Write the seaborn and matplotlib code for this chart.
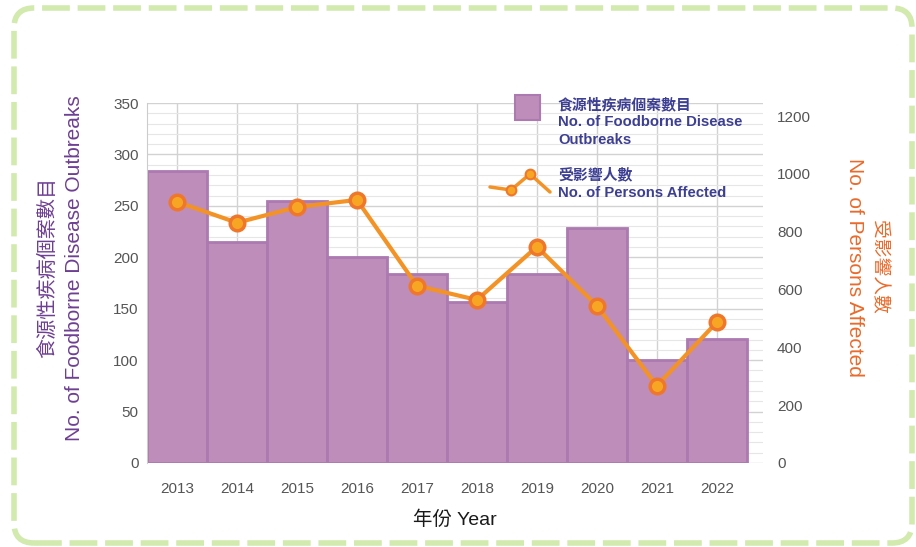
import numpy as np
import pandas as pd
import matplotlib
matplotlib.use("Agg")
import matplotlib.pyplot as plt
import seaborn as sns
from matplotlib.patches import FancyBboxPatch, Rectangle
from matplotlib.lines import Line2D

# data
years = ['2013', '2014', '2015', '2016', '2017', '2018', '2019', '2020', '2021', '2022']
outbreaks = [284, 215, 255, 200, 184, 157, 184, 228, 100, 121]
persons = [903, 831, 885, 910, 613, 564, 748, 544, 267, 487]

BAR = '#BF8DBA'
BAR_EDGE = '#AC79B0'
LINE = '#F39325'
MK_FACE = '#F6A623'
MK_EDGE = '#EF772B'
TICK = '#555555'

sns.set_style('white')
plt.rcParams['font.family'] = ['Liberation Sans', 'Noto Sans CJK TC']

df = pd.DataFrame({'year': years, 'outbreaks': outbreaks, 'persons': persons})
pos = np.arange(len(years))

W, H = 916, 547
fig = plt.figure(figsize=(W / 100, H / 100), dpi=100)
ax = fig.add_axes([147 / W, 1 - 463 / H, 616 / W, 360 / H])

sns.barplot(data=df, x='year', y='outbreaks', color=BAR, edgecolor=BAR_EDGE,
            linewidth=2, width=1.0, saturation=1, ax=ax, zorder=2)

ax.set_xlim(-0.5, 9.77)
ax.set_ylim(0, 350)
ax.set_yticks(range(0, 351, 50))
ax.set_yticks(range(0, 351, 10), minor=True)
ax.set_axisbelow(True)
ax.grid(which='major', axis='both', color='#D2D2D2', lw=1)
ax.grid(which='minor', axis='y', color='#E6E6E6', lw=0.8)
for s in ['top', 'right', 'bottom']:
    ax.spines[s].set_visible(False)
ax.spines['left'].set_color('#CCCCCC')
ax.tick_params(axis='y', which='both', length=0, pad=6, labelsize=11, labelcolor=TICK)
ax.tick_params(axis='x', length=0, pad=14, labelsize=11, labelcolor=TICK)
ax.set_ylabel('')
ax.set_xlabel('年份 Year', fontsize=14, labelpad=10, color='#1A1A1A')

ax2 = ax.twinx()
sns.lineplot(x=pos, y=persons, ax=ax2, color=LINE, lw=3, marker='o',
             markersize=10.5, markerfacecolor=MK_FACE, markeredgecolor=MK_EDGE,
             markeredgewidth=2.5, zorder=3)
ax2.set_ylim(0, 1245)
ax2.set_yticks(range(0, 1201, 200))
for s in ax2.spines.values():
    s.set_visible(False)
ax2.tick_params(axis='y', length=0, pad=10, labelsize=11, labelcolor=TICK)
ax2.set_ylabel('')
ax2.set_xlabel('')

# axis titles
ax.text(-0.1607, 0.542, '食源性疾病個案數目', transform=ax.transAxes, rotation=90,
        ha='center', va='center', fontsize=14.5, color='#6E3F92')
ax.text(-0.1169, 0.542, 'No. of Foodborne Disease Outbreaks', transform=ax.transAxes,
        rotation=90, ha='center', va='center', fontsize=15, color='#6E3F92')
ax.text(1.188, 0.544, '受影響人數', transform=ax.transAxes, rotation=270,
        ha='center', va='center', fontsize=13.5, color='#EA6A2A')
ax.text(1.149, 0.544, 'No. of Persons Affected', transform=ax.transAxes, rotation=270,
        ha='center', va='center', fontsize=15, color='#EA6A2A')

# legend drawn by hand
fig.add_artist(Rectangle((515 / W, 1 - 120 / H), 25 / W, 25 / H, transform=fig.transFigure,
                         fc=BAR, ec=BAR_EDGE, lw=1.5))
fig.text(558 / W, 1 - 97 / H, '食源性疾病個案數目\nNo. of Foodborne Disease\nOutbreaks',
         ha='left', va='top', fontsize=10.7, fontweight='bold', color='#3D3F93', linespacing=1.33)
zx = np.array([490, 511, 530, 550]) / W
zy = 1 - np.array([187, 190, 174, 192]) / H
fig.add_artist(Line2D(zx, zy, transform=fig.transFigure, color=LINE, lw=2.5, marker='o',
                      markevery=[1, 2], markersize=7, markerfacecolor=MK_FACE,
                      markeredgecolor=MK_EDGE, markeredgewidth=1.5))
fig.text(558 / W, 1 - 168 / H, '受影響人數\nNo. of Persons Affected',
         ha='left', va='top', fontsize=10.7, fontweight='bold', color='#3D3F93', linespacing=1.33)

# dashed rounded frame
fig.patches.append(FancyBboxPatch((0.14, 0.04), 8.98, 5.35,
                                  boxstyle='round,pad=0,rounding_size=0.2',
                                  transform=fig.dpi_scale_trans, fc='none',
                                  ec='#D2EAAE', lw=4, ls=(0, (5, 1.4))))

fig.savefig('out.png', dpi=100)
